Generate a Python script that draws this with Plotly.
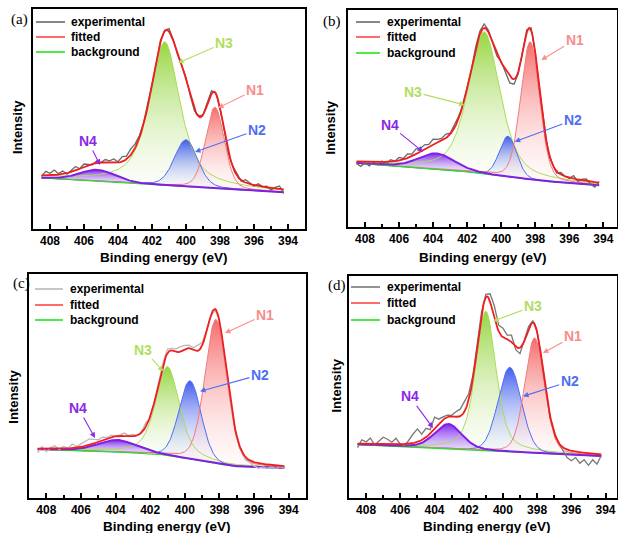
import numpy as np
import plotly.graph_objects as go

W, H = 618, 533
FONT = "Liberation Sans"

# ---------------- data ----------------
components = ["N1", "N2", "N3", "N4"]

# measured energy grid (eV)
exp_energy = [408.5, 408.25, 408.0, 407.75, 407.5, 407.25, 407.0, 406.75, 406.5, 406.25,
              406.0, 405.75, 405.5, 405.25, 405.0, 404.75, 404.5, 404.25, 404.0, 403.75,
              403.5, 403.25, 403.0, 402.75, 402.5, 402.25, 402.0, 401.75, 401.5, 401.25,
              401.0, 400.75, 400.5, 400.25, 400.0, 399.75, 399.5, 399.25, 399.0, 398.75,
              398.5, 398.25, 398.0, 397.75, 397.5, 397.25, 397.0, 396.75, 396.5, 396.25,
              396.0, 395.75, 395.5, 395.25, 395.0, 394.75, 394.5, 394.25]

# peak parameters (order N1, N2, N3, N4)
centers_a = [398.3, 400.0, 401.25, 405.2]
heights_a = [81, 46.7, 143.5, 11.5]
fwhm_a = [1.3, 1.6, 2.1, 2.5]
lor_a = [0.2, 0.2, 0.7, 0.2]

centers_b = [398.3, 399.6, 401.0, 403.8]
heights_b = [137.6, 40.6, 142, 15.7]
fwhm_b = [1.3, 1.2, 2.2, 2.5]
lor_b = [0.2, 0.1, 0.5, 0.2]

centers_c = [398.2, 399.7, 401.0, 403.9]
heights_c = [144, 78, 89, 12]
fwhm_c = [1.5, 1.5, 1.6, 2.6]
lor_c = [0.2, 0.1, 0.5, 0.2]

centers_d = [398.15, 399.6, 401.0, 403.2]
heights_d = [115, 84.5, 139.4, 24.9]
fwhm_d = [1.35, 1.6, 1.4, 1.9]
lor_d = [0.2, 0.1, 0.5, 0.3]

# background: value at 393 eV, value at 409 eV, Shirley step
bg_a = [56.5, 72.5, 0]
bg_b = [63.3, 87.4, 5]
bg_c = [49.6, 68.8, 12]
bg_d = [60.8, 73.8, 0]

# experimental minus fitted
resid_a = [-1, 4, 2, 5, 1, 3, -1, 2, 4, 0,
           3, 1, -1, 2, 0, 3, 2, 4, 1, 5,
           3, 6, 4, 2, 1, 3, 0, -1, 2, 1,
           3, 1, -2, 0, 2, -1, -2, 1, 0, 2,
           3, 1, -1, 0, -2, 1, 2, -1, 3, 1,
           -1, 2, 0, 1, -2, 1, 3, -4]
resid_b = [-2, -5, -1, -4, 0, -3, 1, -2, 2, 0,
           3, 1, 4, 2, 5, 3, 4, 2, 5, 3,
           2, 4, 1, 3, 2, 0, 1, -1, 2, 3,
           4, 2, 0, -2, 1, -4, -7, -5, -2, 1,
           3, 2, 0, -1, 2, -1, 1, -2, 2, 0,
           -1, 3, -2, 1, 2, -3, -5, 1]
resid_c = [-4, 2, -3, 1, 3, -1, 2, 0, 4, 1,
           3, 5, 6, 4, 2, 3, 1, 2, 0, 1,
           3, 1, 2, 0, 1, 4, -2, 0, 1, 3,
           4, 2, 3, 5, 4, 3, 2, 6, 3, 1,
           0, -1, 1, 0, -1, 1, -1, 0, -3, -2,
           -4, -5, -3, -4, -2, -3, -1, -2]
resid_d = [-4, 4, 2, 6, -1, 3, 7, 5, 2, 6,
           0, -2, 4, 9, 13, 6, 9, 4, 12, 5,
           3, 2, 1, 5, 7, 10, 6, 3, 2, 4,
           3, 8, 12, 6, 9, 4, 7, -3, -6, 1,
           3, 2, 0, -1, 2, -2, 1, 0, -3, -8,
           -10, -6, -11, -7, -12, -6, -10, -1]

legend_labels = ["experimental", "fitted", "background"]
xtitle = "Binding energy (eV)"
ytitle = "Intensity"

# ---------------- styles ----------------
line_col = {"N1": "rgb(240,125,125)", "N2": "rgb(80,110,240)",
            "N3": "rgb(170,220,90)", "N4": "rgb(130,30,230)"}
label_col = {"N1": "rgb(250,140,140)", "N2": "rgb(80,110,245)",
             "N3": "rgb(175,222,95)", "N4": "rgb(140,40,230)"}
fill_top = {"N1": "rgba(245,100,100,0.95)", "N2": "rgba(55,85,235,0.95)",
            "N3": "rgba(145,212,55,0.95)", "N4": "rgba(125,35,235,0.97)"}
fill_bot = {"N1": "rgba(255,228,228,0.2)", "N2": "rgba(225,230,252,0.2)",
            "N3": "rgba(235,246,220,0.2)", "N4": "rgba(200,170,250,0.45)"}

panels = [
    dict(tag="(a)", c=centers_a, h=heights_a, w=fwhm_a, e=lor_a, bg=bg_a, res=resid_a,
         xd=(33, 305), yd=(9, 229), xr=(409, 393), yr=(21, 241), gray="rgb(105,105,105)",
         lab=(19, 19), leg=(36, 65, 69, [22, 37, 52]), xt=(163.5, 257), yt=(17, 127),
         ann=[("N3", 224, 43, 178, 63), ("N1", 255, 90, 218, 108),
              ("N2", 257, 130, 195, 152), ("N4", 88, 141, 100, 165)]),
    dict(tag="(b)", c=centers_b, h=heights_b, w=fwhm_b, e=lor_b, bg=bg_b, res=resid_b,
         xd=(348, 617), yd=(10, 227), xr=(409, 393.2), yr=(23, 240), gray="rgb(105,105,105)",
         lab=(332, 21), leg=(356, 380, 385, [22, 37, 53]), xt=(483.5, 257), yt=(330, 127.5),
         ann=[("N1", 574.7, 40, 541.3, 60), ("N3", 413, 91.7, 464.7, 105),
              ("N2", 573, 120, 514.7, 141.7), ("N4", 389.7, 125, 423, 151.7)]),
    dict(tag="(c)", c=centers_c, h=heights_c, w=fwhm_c, e=lor_c, bg=bg_c, res=resid_c,
         xd=(29, 306), yd=(274, 498), xr=(409, 393), yr=(20, 244), gray="rgb(185,185,185)",
         lab=(21, 283), leg=(35, 63, 68, [289, 305, 320]), xt=(166.5, 526), yt=(14, 396.7),
         ann=[("N1", 265, 314.7, 225, 333), ("N3", 143.3, 349.7, 163.3, 371.3),
              ("N2", 260, 374.7, 200, 391.3), ("N4", 78.3, 408, 95, 438)]),
    dict(tag="(d)", c=centers_d, h=heights_d, w=fwhm_d, e=lor_d, bg=bg_d, res=resid_d,
         xd=(349, 617), yd=(276, 498), xr=(409, 393.33), yr=(20, 242), gray="rgb(120,120,120)",
         lab=(337, 285), leg=(351, 380, 385, [287, 303, 320]), xt=(487, 526), yt=(336, 385.5),
         ann=[("N3", 533, 306.3, 493, 321.3), ("N1", 573, 336.3, 543, 353),
              ("N2", 569.7, 381.3, 523, 396.3), ("N4", 409.7, 396.3, 433, 428)]),
]


def pvoigt(x, c, h, w, eta):
    g = np.exp(-4 * np.log(2) * ((x - c) / w) ** 2)
    lz = 1.0 / (1.0 + 4 * ((x - c) / w) ** 2)
    return h * (eta * lz + (1 - eta) * g)


xf = np.linspace(408.5, 394.25, 286)
ex = np.array(exp_energy)

fig = go.Figure()
annotations = []
shapes = []

for k, p in enumerate(panels, start=1):
    xa = "x" if k == 1 else f"x{k}"
    ya = "y" if k == 1 else f"y{k}"
    comps = {n: pvoigt(xf, p["c"][i], p["h"][i], p["w"][i], p["e"][i])
             for i, n in enumerate(components)}
    total = sum(comps.values())
    s = np.cumsum(total[::-1])[::-1]
    s = s / s[0]
    b_lo, b_hi, step = p["bg"]
    slope = (b_hi - b_lo - step) / 16.0
    bg = b_lo + slope * (xf - 393) + step * s
    fit = bg + total
    expv = np.interp(ex[::-1], xf[::-1], fit[::-1])[::-1] + np.array(p["res"])

    # filled components
    for n in ["N3", "N2", "N1", "N4"]:
        i = components.index(n)
        base = float(np.interp(p["c"][i], xf[::-1], bg[::-1]))
        fig.add_trace(go.Scatter(
            x=np.concatenate([xf, xf[::-1]]), y=np.concatenate([bg + comps[n], bg[::-1]]),
            xaxis=xa, yaxis=ya, mode="lines", line=dict(width=0), fill="toself",
            fillgradient=dict(type="vertical", start=base, stop=base + p["h"][i],
                              colorscale=[[0, fill_bot[n]], [1, fill_top[n]]]),
            hoverinfo="skip", showlegend=False))
    for n in ["N3", "N2", "N1"]:
        fig.add_trace(go.Scatter(x=xf, y=bg + comps[n], xaxis=xa, yaxis=ya, mode="lines",
                                 line=dict(color=line_col[n], width=1), name=n, showlegend=False))
    fig.add_trace(go.Scatter(x=xf, y=bg, xaxis=xa, yaxis=ya, mode="lines",
                             line=dict(color="rgb(40,220,40)", width=1.2), name="background",
                             showlegend=False))
    fig.add_trace(go.Scatter(x=xf, y=bg + comps["N4"], xaxis=xa, yaxis=ya, mode="lines",
                             line=dict(color=line_col["N4"], width=2), name="N4", showlegend=False))
    fig.add_trace(go.Scatter(x=ex, y=expv, xaxis=xa, yaxis=ya, mode="lines",
                             line=dict(color=p["gray"], width=1.3), name="experimental",
                             showlegend=False))
    fig.add_trace(go.Scatter(x=xf, y=fit, xaxis=xa, yaxis=ya, mode="lines",
                             line=dict(color="rgb(240,30,30)", width=1.8), name="fitted",
                             showlegend=False))

    axis_common = dict(showline=True, linecolor="black", linewidth=2, mirror=True,
                       showgrid=False, zeroline=False)
    fig.update_layout(**{
        ("xaxis" if k == 1 else f"xaxis{k}"): dict(
            domain=[p["xd"][0] / W, p["xd"][1] / W], range=list(p["xr"]), anchor=ya,
            ticks="inside", ticklen=5, tickwidth=1.5, tickcolor="black", dtick=2, tick0=0,
            tickfont=dict(family=FONT, size=12, color="black", weight="bold"),
            minor=dict(ticks="inside", ticklen=3, tickwidth=1.5, tickcolor="black", dtick=1,
                       showgrid=False),
            **axis_common),
        ("yaxis" if k == 1 else f"yaxis{k}"): dict(
            domain=[1 - p["yd"][1] / H, 1 - p["yd"][0] / H], range=list(p["yr"]), anchor=xa,
            showticklabels=False, ticks="", **axis_common),
    })

    # panel tag
    annotations.append(dict(x=p["lab"][0] / W, y=1 - p["lab"][1] / H, xref="paper", yref="paper",
                            text=p["tag"], showarrow=False, xanchor="center", yanchor="middle",
                            font=dict(family="Liberation Serif", size=15, color="black")))
    # legend
    lx0, lx1, tx, rows = p["leg"]
    leg_cols = [p["gray"], "rgb(255,70,70)", "rgb(30,230,30)"]
    for lab, col, ry in zip(legend_labels, leg_cols, rows):
        shapes.append(dict(type="line", xref="paper", yref="paper", x0=lx0 / W, x1=lx1 / W,
                           y0=1 - ry / H, y1=1 - ry / H, line=dict(color=col, width=1.6)))
        annotations.append(dict(x=tx / W, y=1 - ry / H, xref="paper", yref="paper", text=lab,
                                showarrow=False, xanchor="left", yanchor="middle",
                                font=dict(family=FONT, size=12, color="black", weight="bold")))
    # axis titles
    annotations.append(dict(x=p["xt"][0] / W, y=1 - p["xt"][1] / H, xref="paper", yref="paper",
                            text=xtitle, showarrow=False, xanchor="center", yanchor="middle",
                            font=dict(family=FONT, size=13.5, color="black", weight="bold")))
    annotations.append(dict(x=p["yt"][0] / W, y=1 - p["yt"][1] / H, xref="paper", yref="paper",
                            text=ytitle, showarrow=False, textangle=-90, xanchor="center",
                            yanchor="middle",
                            font=dict(family=FONT, size=13, color="black", weight="bold")))
    # component labels with arrows
    for n, lxp, lyp, hx, hy in p["ann"]:
        annotations.append(dict(x=hx / W, y=1 - hy / H, xref="paper", yref="paper", text=n,
                                showarrow=True, ax=lxp - hx, ay=lyp - hy, arrowhead=2,
                                arrowsize=1, arrowwidth=1.1, arrowcolor=label_col[n],
                                font=dict(family=FONT, size=14, color=label_col[n],
                                          weight="bold")))

fig.update_layout(width=W, height=H, margin=dict(l=0, r=0, t=0, b=0),
                  paper_bgcolor="white", plot_bgcolor="white", showlegend=False,
                  annotations=annotations, shapes=shapes)
fig.write_html("out.html")
